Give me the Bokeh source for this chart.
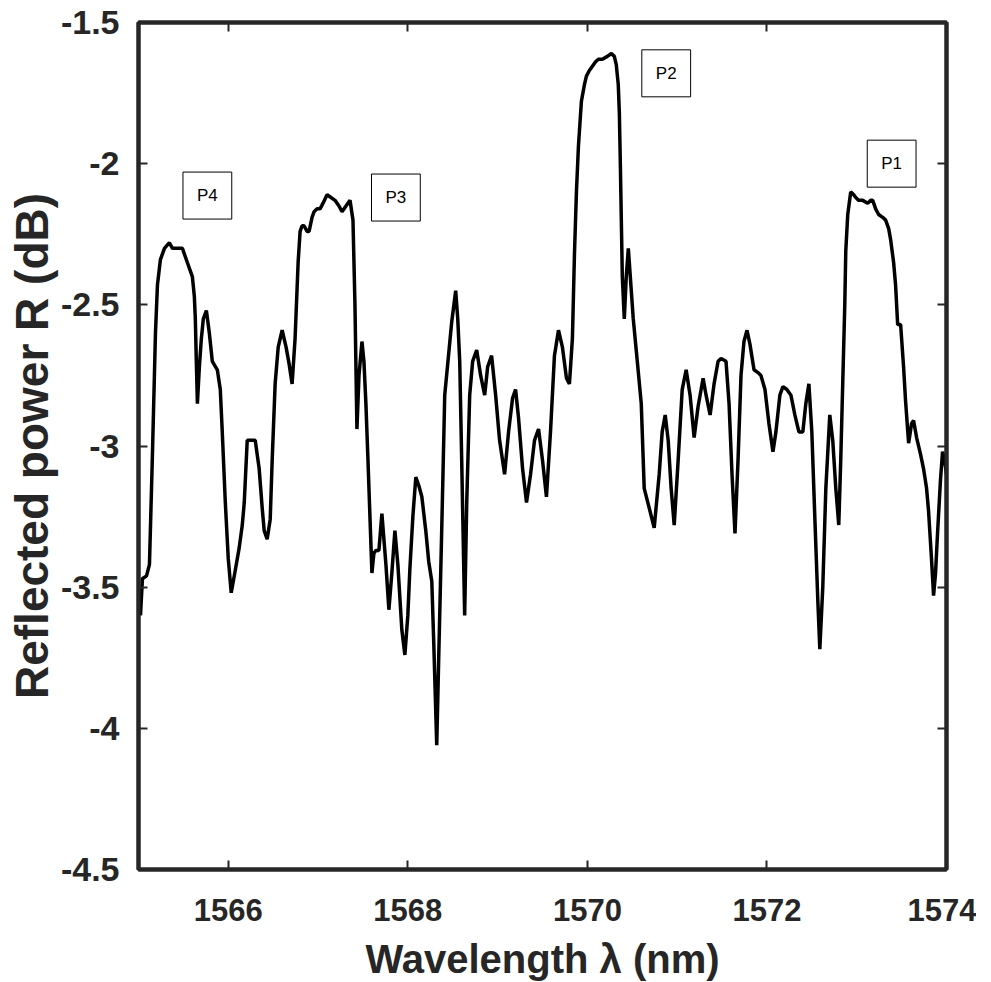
from bokeh.plotting import figure
from bokeh.models import Range1d, FixedTicker, LinearAxis, Label
from bokeh.embed import file_html
from bokeh.resources import INLINE

# Reflection spectrum
wavelength = [
    1565.022, 1565.044, 1565.089, 1565.122, 1565.156, 1565.189, 1565.211, 1565.244, 1565.289, 1565.344,
    1565.378, 1565.411, 1565.456, 1565.489, 1565.544, 1565.600, 1565.622, 1565.633, 1565.644, 1565.656,
    1565.678, 1565.700, 1565.722, 1565.756, 1565.789, 1565.822, 1565.878, 1565.911, 1565.933, 1565.967,
    1566.000, 1566.033, 1566.078, 1566.122, 1566.156, 1566.178, 1566.211, 1566.256, 1566.300, 1566.344,
    1566.378, 1566.400, 1566.433, 1566.467, 1566.489, 1566.522, 1566.556, 1566.600, 1566.644, 1566.678,
    1566.711, 1566.744, 1566.778, 1566.800, 1566.822, 1566.844, 1566.878, 1566.900, 1566.933, 1566.956,
    1566.989, 1567.022, 1567.056, 1567.100, 1567.144, 1567.189, 1567.233, 1567.267, 1567.311, 1567.356,
    1567.389, 1567.411, 1567.433, 1567.456, 1567.489, 1567.511, 1567.533, 1567.556, 1567.578, 1567.600,
    1567.622, 1567.644, 1567.678, 1567.711, 1567.756, 1567.789, 1567.822, 1567.856, 1567.889, 1567.933,
    1567.967, 1568.000, 1568.022, 1568.056, 1568.089, 1568.122, 1568.156, 1568.200, 1568.233, 1568.267,
    1568.289, 1568.322, 1568.344, 1568.378, 1568.411, 1568.456, 1568.489, 1568.533, 1568.556, 1568.578,
    1568.600, 1568.633, 1568.656, 1568.689, 1568.722, 1568.767, 1568.811, 1568.856, 1568.889, 1568.933,
    1568.978, 1569.022, 1569.078, 1569.122, 1569.167, 1569.200, 1569.233, 1569.278, 1569.322, 1569.367,
    1569.411, 1569.456, 1569.500, 1569.544, 1569.589, 1569.633, 1569.678, 1569.722, 1569.767, 1569.800,
    1569.833, 1569.856, 1569.878, 1569.900, 1569.933, 1569.967, 1569.989, 1570.022, 1570.044, 1570.089,
    1570.122, 1570.167, 1570.222, 1570.267, 1570.300, 1570.322, 1570.344, 1570.356, 1570.367, 1570.378,
    1570.389, 1570.411, 1570.433, 1570.456, 1570.478, 1570.511, 1570.556, 1570.600, 1570.633, 1570.689,
    1570.744, 1570.800, 1570.833, 1570.867, 1570.900, 1570.933, 1570.967, 1571.011, 1571.056, 1571.100,
    1571.144, 1571.189, 1571.233, 1571.289, 1571.322, 1571.367, 1571.411, 1571.456, 1571.489, 1571.544,
    1571.578, 1571.611, 1571.644, 1571.678, 1571.711, 1571.744, 1571.778, 1571.811, 1571.856, 1571.900,
    1571.933, 1571.978, 1572.022, 1572.067, 1572.100, 1572.144, 1572.178, 1572.222, 1572.267, 1572.311,
    1572.356, 1572.400, 1572.433, 1572.467, 1572.500, 1572.533, 1572.567, 1572.589, 1572.622, 1572.656,
    1572.700, 1572.733, 1572.767, 1572.800, 1572.822, 1572.844, 1572.867, 1572.878, 1572.900, 1572.933,
    1572.967, 1572.989, 1573.022, 1573.067, 1573.122, 1573.156, 1573.178, 1573.211, 1573.244, 1573.289,
    1573.322, 1573.356, 1573.378, 1573.411, 1573.433, 1573.456, 1573.489, 1573.522, 1573.544, 1573.578,
    1573.611, 1573.633, 1573.667, 1573.711, 1573.744, 1573.778, 1573.800, 1573.833, 1573.856, 1573.878,
    1573.900, 1573.933, 1573.956, 1573.978, 1574.000,
]
reflected_db = [
    -3.60, -3.47, -3.46, -3.42, -3.02, -2.60, -2.43, -2.34, -2.30, -2.28,
    -2.30, -2.30, -2.30, -2.30, -2.35, -2.40, -2.47, -2.55, -2.70, -2.85,
    -2.72, -2.62, -2.55, -2.52, -2.60, -2.70, -2.73, -2.80, -2.95, -3.20,
    -3.40, -3.52, -3.44, -3.36, -3.28, -3.20, -2.98, -2.98, -2.98, -3.08,
    -3.22, -3.30, -3.33, -3.26, -3.05, -2.78, -2.65, -2.59, -2.65, -2.71,
    -2.78, -2.62, -2.35, -2.24, -2.22, -2.22, -2.24, -2.24, -2.19, -2.17,
    -2.16, -2.16, -2.14, -2.11, -2.12, -2.13, -2.15, -2.17, -2.15, -2.13,
    -2.20, -2.50, -2.94, -2.75, -2.63, -2.70, -2.85, -3.05, -3.25, -3.45,
    -3.38, -3.37, -3.37, -3.24, -3.42, -3.58, -3.45, -3.30, -3.42, -3.65,
    -3.74, -3.60, -3.44, -3.25, -3.11, -3.14, -3.18, -3.30, -3.41, -3.48,
    -3.70, -4.06, -3.75, -3.29, -2.82, -2.67, -2.56, -2.45, -2.55, -2.70,
    -3.05, -3.60, -3.20, -2.82, -2.70, -2.66, -2.75, -2.82, -2.72, -2.68,
    -2.82, -2.98, -3.10, -2.95, -2.83, -2.80, -2.90, -3.08, -3.20, -3.10,
    -2.98, -2.94, -3.05, -3.18, -2.95, -2.68, -2.59, -2.65, -2.76, -2.78,
    -2.62, -2.32, -2.10, -1.94, -1.78, -1.72, -1.69, -1.67, -1.66, -1.64,
    -1.63, -1.63, -1.62, -1.61, -1.62, -1.65, -1.72, -1.82, -2.00, -2.20,
    -2.40, -2.55, -2.40, -2.30, -2.40, -2.55, -2.70, -2.85, -3.15, -3.22,
    -3.29, -3.10, -2.95, -2.89, -2.98, -3.15, -3.28, -3.05, -2.80, -2.73,
    -2.82, -2.97, -2.86, -2.76, -2.82, -2.89, -2.78, -2.70, -2.69, -2.70,
    -2.85, -3.10, -3.31, -3.05, -2.75, -2.63, -2.59, -2.64, -2.73, -2.74,
    -2.75, -2.80, -2.92, -3.02, -2.95, -2.82, -2.79, -2.80, -2.82, -2.89,
    -2.95, -2.95, -2.85, -2.78, -2.95, -3.25, -3.55, -3.72, -3.50, -3.15,
    -2.89, -2.98, -3.15, -3.28, -3.05, -2.78, -2.50, -2.31, -2.18, -2.10,
    -2.11, -2.12, -2.13, -2.13, -2.14, -2.13, -2.13, -2.16, -2.18, -2.19,
    -2.20, -2.23, -2.27, -2.35, -2.43, -2.57, -2.57, -2.72, -2.84, -2.99,
    -2.92, -2.91, -2.97, -3.03, -3.08, -3.15, -3.23, -3.40, -3.53, -3.45,
    -3.31, -3.12, -3.02, -3.05, -3.10,
]

x_ticks = [1566, 1568, 1570, 1572, 1574]
y_ticks = [-4.5, -4.0, -3.5, -3.0, -2.5, -2.0, -1.5]
y_tick_labels = ["-4.5", "-4", "-3.5", "-3", "-2.5", "-2", "-1.5"]

peak_names = ["P4", "P3", "P2", "P1"]
peak_x = [1565.767, 1567.867, 1570.878, 1573.389]
peak_y = [-2.113, -2.120, -1.680, -2.000]

AX = "#262626"
FONT = "Liberation Sans"

p = figure(
    frame_width=808, frame_height=847,
    x_range=Range1d(1565, 1574), y_range=Range1d(-4.5, -1.5),
    output_backend="svg", toolbar_location=None,
    min_border_left=138, min_border_top=22, min_border_right=30, min_border_bottom=20,
    background_fill_color="white", border_fill_color="white",
)
p.grid.visible = False
p.outline_line_color = AX
p.outline_line_width = 4

p.line(wavelength, reflected_db, line_color="black", line_width=3.5)

for ax in (p.xaxis[0], p.yaxis[0]):
    ax.axis_line_color = AX
    ax.axis_line_width = 4
    ax.major_tick_in = 9
    ax.major_tick_out = 0
    ax.major_tick_line_width = 2
    ax.major_tick_line_color = AX
    ax.minor_tick_line_color = None
    ax.major_label_text_font = FONT
    ax.major_label_text_font_style = "bold"
    ax.major_label_text_color = AX
    ax.axis_label_text_font = FONT
    ax.axis_label_text_font_style = "bold"
    ax.axis_label_text_color = AX

p.xaxis[0].ticker = FixedTicker(ticks=x_ticks)
p.xaxis[0].major_label_text_font_size = "31px"
p.xaxis[0].major_label_standoff = 29
p.xaxis[0].axis_label = "Wavelength \u03bb (nm)"
p.xaxis[0].axis_label_text_font_size = "40px"
p.xaxis[0].axis_label_standoff = 13

p.yaxis[0].ticker = FixedTicker(ticks=y_ticks)
p.yaxis[0].major_label_overrides = {t: s for t, s in zip(y_ticks, y_tick_labels)}
p.yaxis[0].major_label_text_font_size = "34px"
p.yaxis[0].major_label_standoff = 19
p.yaxis[0].axis_label = "Reflected power R (dB)"
p.yaxis[0].axis_label_text_font_size = "46px"
p.yaxis[0].axis_label_standoff = 0

top = LinearAxis(ticker=FixedTicker(ticks=x_ticks),
                 major_label_overrides={t: "" for t in x_ticks})
right = LinearAxis(ticker=FixedTicker(ticks=y_ticks),
                   major_label_overrides={t: "" for t in y_ticks})
for ax in (top, right):
    ax.axis_line_color = AX
    ax.axis_line_width = 4
    ax.major_tick_in = 9
    ax.major_tick_out = 0
    ax.major_tick_line_width = 2
    ax.major_tick_line_color = AX
    ax.minor_tick_line_color = None
    ax.major_label_text_font_size = "1px"
    ax.major_label_standoff = 0
p.add_layout(top, "above")
p.add_layout(right, "right")

for name, lx, ly in zip(peak_names, peak_x, peak_y):
    p.add_layout(Label(
        x=lx, y=ly, text=name, text_align="center", text_baseline="middle",
        text_font=FONT, text_font_size="17px", text_color="black",
        background_fill_color="white", border_line_color="black", border_line_width=1,
        padding=14,
    ))

open("out.html", "w").write(file_html(p, INLINE))
